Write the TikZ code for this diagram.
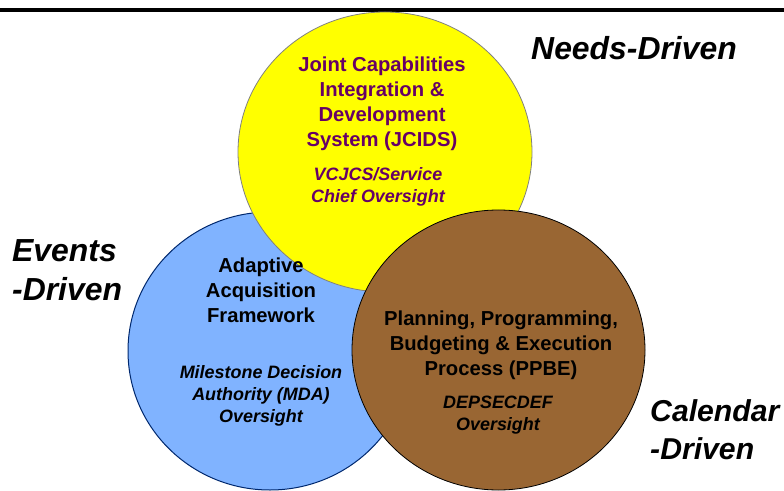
\documentclass[tikz,border=0pt]{standalone}
\usepackage{fontspec}
\setmainfont{Liberation Sans}
\usetikzlibrary{positioning}
\definecolor{needsyellow}{RGB}{255,255,0}
\definecolor{eventsblue}{RGB}{128,179,255}
\definecolor{eventsline}{RGB}{0,40,110}
\definecolor{calendarbrown}{RGB}{153,102,51}
\definecolor{jcidspurple}{RGB}{102,0,102}

\begin{document}
\begin{tikzpicture}[x=1bp,y=-1bp,
    drive/.style={font=\fontsize{32}{39}\selectfont\bfseries\itshape, align=left, inner sep=0pt},
    title/.style={font=\fontsize{20.3}{25}\selectfont\bfseries, align=center, inner sep=0pt},
    oversight/.style={font=\fontsize{18}{22}\selectfont\bfseries\itshape, align=center, inner sep=0pt}]
    \useasboundingbox (0,0) rectangle (784,491);
    \draw[line width=3.5bp] (0,10) -- (784,10);
    \filldraw[fill=eventsblue, draw=eventsline, line width=1bp] (270,351) ellipse [x radius=142bp, y radius=139bp];
    \filldraw[fill=needsyellow, draw=gray, line width=0.8bp] (385,152) ellipse [x radius=147bp, y radius=140bp];
    \filldraw[fill=calendarbrown, draw=black, line width=0.8bp] (498.5,350) ellipse [x radius=146.5bp, y radius=140bp];
    \node[drive] (needs) at (634,48) {Needs-Driven};
    \node[drive, anchor=west] (events) at (12,270) {Events\\-Driven};
    \node[drive, anchor=west, font=\fontsize{30.3}{38}\selectfont\bfseries\itshape] (calendar) at (650,430) {Calendar\\-Driven};
    \node[title, text=jcidspurple] (jcids) at (382,104) {Joint Capabilities\\Integration \&\\Development\\System (JCIDS)};
    \node[oversight, text=jcidspurple] (vcjcs) at (378,187) {VCJCS/Service\\Chief Oversight};
    \node[title] (aaf) at (261,290) {Adaptive\\Acquisition\\Framework};
    \node[oversight] (mda) at (261,396) {Milestone Decision\\Authority (MDA)\\Oversight};
    \node[title] (ppbe) at (501,345) {Planning, Programming,\\Budgeting \& Execution\\Process (PPBE)};
    \node[oversight] (depsecdef) at (498,415) {DEPSECDEF\\Oversight};
\end{tikzpicture}
\end{document}
